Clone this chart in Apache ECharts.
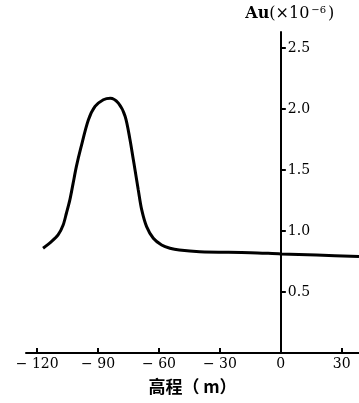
<!DOCTYPE html>
<html>
<head>
<meta charset="utf-8">
<script src="https://cdn.jsdelivr.net/npm/echarts@6/dist/echarts.min.js"></script>
<style>
  html, body { margin: 0; padding: 0; background: #fff; }
  #chart { width: 359px; height: 403px; }
</style>
</head>
<body>
<div id="chart"></div>
<script>
// 高程 (m) 与 Au 含量 (×10^-6)
const elevation = [-117.1, -113, -109.7, -107.2, -105.6, -103.9, -102.3, -100.7, -98.5, -94.8, -91.5, -87.4, -84, -80, -76.7, -74.3, -72.8, -71.8, -70.2, -68.5, -66.1, -62.8, -58.7, -54.6, -50, -40, -15, 0, 17.6, 38.5];
const auValues = [0.858, 0.912, 0.967, 1.049, 1.145, 1.254, 1.39, 1.527, 1.68, 1.909, 2.02, 2.075, 2.088, 2.047, 1.94, 1.75, 1.6, 1.5, 1.336, 1.172, 1.035, 0.94, 0.885, 0.858, 0.843, 0.83, 0.822, 0.812, 0.803, 0.79];
const xTicks = [-120, -90, -60, -30, 0, 30];
const yTicks = [0.5, 1.0, 1.5, 2.0, 2.5];

const X_MIN = -125.5;
const X_MAX = 38.5;
const GRID_LEFT = 26;
const GRID_RIGHT = 0;
const WIDTH = 359;

// y 轴放在 x = 0 处
const plotWidth = WIDTH - GRID_LEFT - GRID_RIGHT;
const zeroOffset = ((0 - X_MIN) / (X_MAX - X_MIN)) * plotWidth;

const chart = echarts.init(document.getElementById('chart'));

const serif = '"DejaVu Serif", "Liberation Serif", serif';

const option = {
  backgroundColor: '#fff',
  animation: false,
  grid: {
    left: GRID_LEFT,
    right: GRID_RIGHT,
    top: 32,
    bottom: 50,
    containLabel: false,
    outerBoundsMode: 'none',
  },
  xAxis: {
    type: 'value',
    min: X_MIN,
    max: X_MAX,
    name: '高程（ m）',
    nameLocation: 'middle',
    nameGap: 25,
    nameTextStyle: {
      color: '#000',
      fontSize: 17,
      fontWeight: 'bold',
      fontFamily: '"Noto Sans CJK SC", sans-serif',
    },
    axisLine: {
      onZero: false,
      lineStyle: { color: '#000', width: 2 },
    },
    axisTick: {
      inside: true,
      length: 5,
      customValues: xTicks,
      lineStyle: { color: '#000', width: 2 },
    },
    axisLabel: {
      customValues: xTicks,
      color: '#000',
      fontSize: 14,
      fontFamily: serif,
      margin: 4,
      formatter: (v) => (v < 0 ? '− ' + Math.abs(v) : String(v)),
    },
    splitLine: { show: false },
  },
  yAxis: {
    type: 'value',
    min: 0,
    max: 2.63,
    position: 'left',
    offset: -zeroOffset,
    name: '{b|Au}{n|(×10}{s|−6}{n|)}',
    nameLocation: 'end',
    nameGap: 9,
    nameTextStyle: {
      align: 'center',
      padding: [0, 0, 0, 18],
      rich: {
        b: { fontSize: 16, fontWeight: 'bold', fontFamily: serif, color: '#000' },
        n: { fontSize: 16, fontFamily: serif, color: '#000' },
        s: { fontSize: 10, fontFamily: serif, color: '#000', verticalAlign: 'top', padding: [0, 2, 8, 2] },
      },
    },
    axisLine: {
      onZero: false,
      lineStyle: { color: '#000', width: 2 },
    },
    axisTick: {
      inside: true,
      length: 5,
      customValues: yTicks,
      lineStyle: { color: '#000', width: 2 },
    },
    axisLabel: {
      inside: true,
      customValues: yTicks,
      color: '#000',
      fontSize: 14,
      fontFamily: serif,
      margin: 7,
      formatter: (v) => v.toFixed(1),
    },
    splitLine: { show: false },
  },
  series: [
    {
      type: 'line',
      smooth: 0.3,
      showSymbol: false,
      lineStyle: { color: '#000', width: 3 },
      data: elevation.map((x, i) => [x, auValues[i]]),
    },
  ],
};

chart.setOption(option);
</script>
</body>
</html>
